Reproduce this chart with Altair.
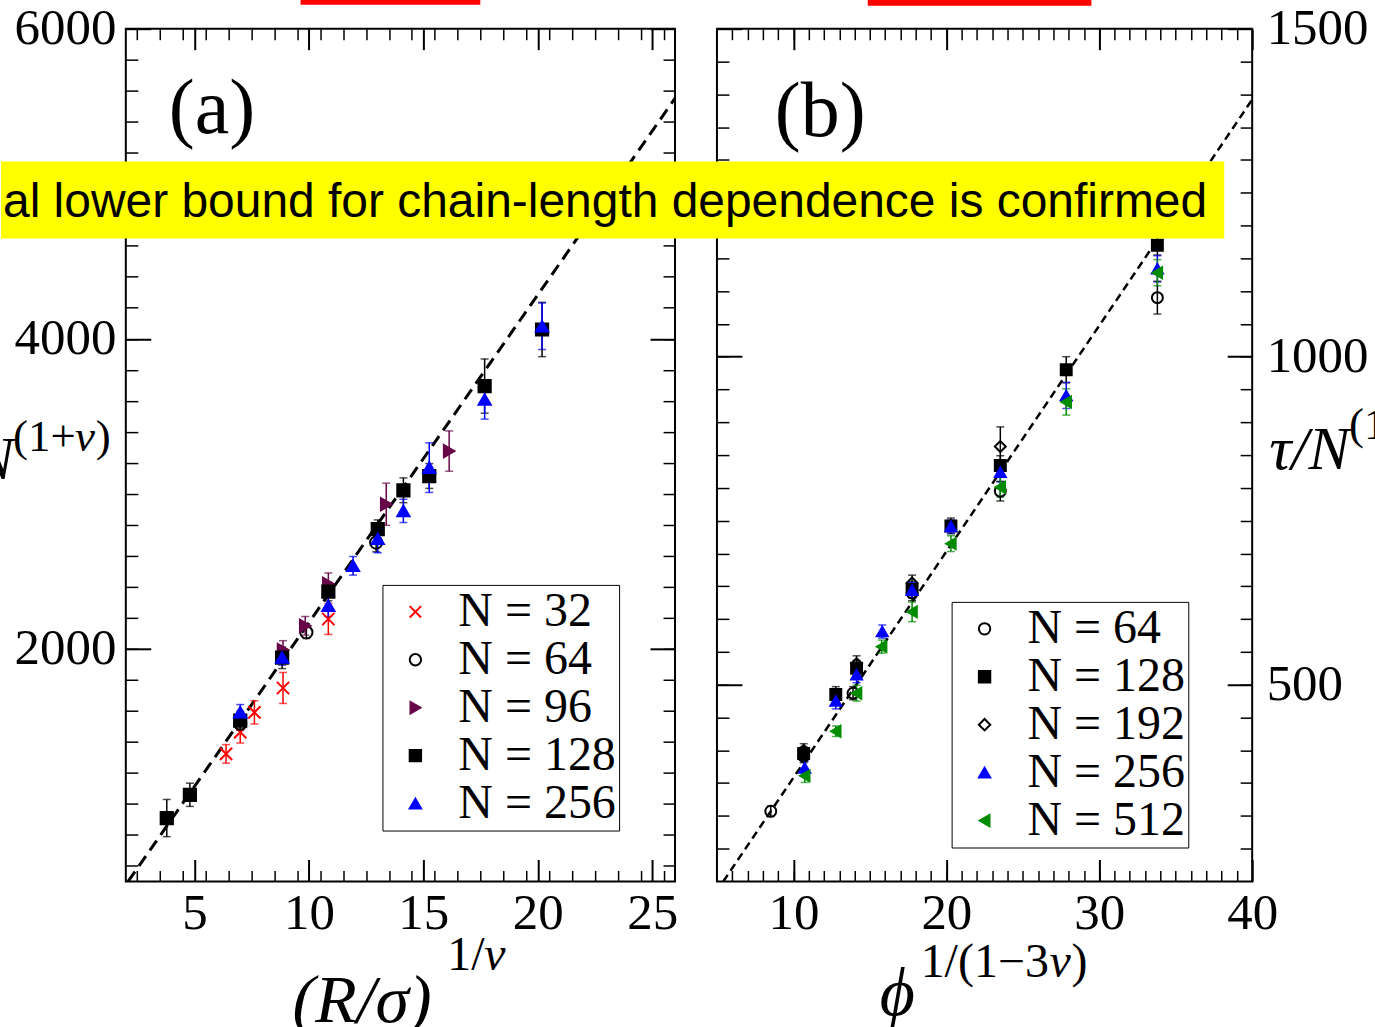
import altair as alt
import pandas as pd

SERIF = "Liberation Serif, DejaVu Serif"
SANS = "Liberation Sans, Arial"

# ---------------- panel (a) data ----------------
a_labels = ["N = 32", "N = 64", "N = 96", "N = 128", "N = 256"]
a_shapes = ["M-1,-1L1,1M-1,1L1,-1", "circle", "triangle-right", "square", "triangle-up"]
a_fills = ["transparent", "transparent", "#670748", "black", "blue"]
a_strokes = ["red", "black", "#670748", "black", "blue"]

a_n32_x = [6.38, 7.0, 7.62, 8.87, 10.85]
a_n32_y = [1323, 1463, 1591, 1748, 2193]
a_n32_e = [60, 70, 75, 100, 100]
a_n64_x = [7.0, 9.89, 12.94]
a_n64_y = [1518, 2107, 2686]
a_n64_e = [40, 40, 60]
a_n96_x = [8.87, 9.84, 10.85, 13.38, 16.13]
a_n96_y = [1993, 2149, 2420, 2933, 3276]
a_n96_e = [60, 60, 70, 136, 130]
a_n128_x = [3.79, 4.80, 7.0, 8.83, 10.85, 13.01, 14.13, 15.26, 17.68, 20.19]
a_n128_y = [909, 1059, 1538, 1943, 2370, 2772, 3023, 3115, 3695, 4060]
a_n128_e = [120, 75, 60, 70, 60, 60, 80, 80, 175, 175]
a_n256_x = [7.0, 8.83, 10.85, 11.93, 13.01, 14.13, 15.26, 17.68, 20.19]
a_n256_y = [1591, 1945, 2278, 2536, 2710, 2890, 3169, 3609, 4081]
a_n256_e = [50, 50, 70, 60, 90, 75, 160, 127, 150]

a_fit_x = [2.1, 26.0]
a_fit_y = [500, 5551]

a_x_domain = [2, 26]
a_y_domain = [500, 6000]
a_x_major = [5, 10, 15, 20, 25]
a_x_minor = [v / 2 for v in range(5, 52)]
a_y_major = [2000, 4000, 6000]
a_y_minor = list(range(600, 6000, 200))

# ---------------- panel (b) data ----------------
b_labels = ["N = 64", "N = 128", "N = 192", "N = 256", "N = 512"]
b_shapes = ["circle", "square", "diamond", "triangle-up", "triangle-left"]
b_fills = ["transparent", "black", "transparent", "blue", "#008b00"]
b_strokes = ["black", "black", "black", "blue", "#008b00"]

b_n64_x = [8.52, 10.67, 13.9, 17.76, 23.53, 33.8]
b_n64_y = [307, 391, 487, 640, 795, 1090]
b_n64_e = [8, 10, 10, 12, 15, 25]
b_n128_x = [10.67, 12.77, 14.13, 17.76, 20.3, 23.53, 27.84, 33.8]
b_n128_y = [395, 485, 525, 645, 742, 834, 980, 1170]
b_n128_e = [10, 12, 12, 12, 12, 15, 20, 15]
b_n192_x = [10.67, 14.13, 17.76, 23.53]
b_n192_y = [400, 532, 655, 863]
b_n192_e = [10, 12, 12, 30]
b_n256_x = [10.74, 12.77, 14.13, 15.81, 17.76, 20.3, 23.53, 27.84, 33.8]
b_n256_y = [373, 475, 515, 581, 644, 741, 824, 941, 1134]
b_n256_e = [10, 12, 12, 10, 12, 10, 15, 20, 20]
b_n512_x = [10.74, 12.77, 14.13, 15.77, 17.76, 20.3, 23.53, 27.84, 33.8]
b_n512_y = [361, 429, 487, 558, 611, 715, 801, 931, 1128]
b_n512_e = [10, 8, 12, 10, 15, 12, 15, 20, 20]

b_fit_x = [5.41, 40.0]
b_fit_y = [200, 1392]

b_x_domain = [5, 40]
b_y_domain = [200, 1500]
b_x_major = [10, 20, 30, 40]
b_x_minor = list(range(6, 40))
b_y_major = [500, 1000, 1500]
b_y_minor = list(range(250, 1500, 50))


def build(series):
    rows = []
    for lab, xs, ys, es in series:
        for x, y, e in zip(xs, ys, es):
            rows.append({"N": lab, "x": x, "y": y, "lo": y - e, "hi": y + e})
    return pd.DataFrame(rows)


df_a = build([
    (a_labels[0], a_n32_x, a_n32_y, a_n32_e),
    (a_labels[1], a_n64_x, a_n64_y, a_n64_e),
    (a_labels[2], a_n96_x, a_n96_y, a_n96_e),
    (a_labels[3], a_n128_x, a_n128_y, a_n128_e),
    (a_labels[4], a_n256_x, a_n256_y, a_n256_e),
])
df_b = build([
    (b_labels[0], b_n64_x, b_n64_y, b_n64_e),
    (b_labels[1], b_n128_x, b_n128_y, b_n128_e),
    (b_labels[2], b_n192_x, b_n192_y, b_n192_e),
    (b_labels[3], b_n256_x, b_n256_y, b_n256_e),
    (b_labels[4], b_n512_x, b_n512_y, b_n512_e),
])
fit_a = pd.DataFrame({"x": a_fit_x, "y": a_fit_y})
fit_b = pd.DataFrame({"x": b_fit_x, "y": b_fit_y})
one = pd.DataFrame({"k": [0]})


def ax(orient, values, size, labels=False, pad=7, width=2):
    kw = dict(orient=orient, values=values, tickSize=size, offset=-size, labels=labels,
              domain=False, grid=False, ticks=True, tickColor="black", tickWidth=width,
              labelFlush=False, labelOverlap=False, title=None, format="d")
    if labels:
        kw.update(labelPadding=pad, labelFont=SERIF, labelFontSize=51, labelColor="black")
    return alt.Axis(**kw)


def legend(x, y):
    return alt.Legend(title=None, orient="none", legendX=x, legendY=y, direction="vertical",
                      fillColor="white", strokeColor="black", padding=3,
                      labelFont=SERIF, labelFontSize=48, labelColor="black", labelLimit=400,
                      symbolSize=130, symbolStrokeWidth=2, symbolOffset=6, labelOffset=19,
                      rowPadding=0)


def txt(s, x, y, size, style="normal", align="left", font=SERIF):
    return alt.Chart(one).mark_text(text=s, fontSize=size, font=font, fontStyle=style,
                                    align=align, baseline="alphabetic", color="black").encode(
        x=alt.value(x), y=alt.value(y))


def box(x, x2, y, y2, color, opacity=1.0):
    return alt.Chart(one).mark_rect(color=color, opacity=opacity).encode(
        x=alt.value(x), x2=alt.value(x2), y=alt.value(y), y2=alt.value(y2))


def panel(df, fit, xdom, ydom, xmaj, xmin, ymaj, ymin, labels, shapes, fills, strokes,
          leg_xy, psize, dash, lw, left_labels, w, h, extras):
    xsc = alt.Scale(domain=xdom, nice=False, zero=False)
    ysc = alt.Scale(domain=ydom, nice=False, zero=False)
    line = alt.Chart(fit).mark_line(color="black", strokeDash=dash, strokeWidth=lw, clip=True).encode(
        x=alt.X("x:Q", scale=xsc, axis=ax("bottom", xmaj, 22, labels=True, pad=7)),
        y=alt.Y("y:Q", scale=ysc, axis=ax("left", ymaj, 25, labels=left_labels, pad=10)))
    # error-bar colour scale lists the series in reverse order so that it is kept
    # apart from the (legend-bearing) shape / fill / stroke scales
    err = alt.Chart(df).mark_errorbar(ticks={"size": 8}, thickness=1.5).encode(
        x=alt.X("x:Q", scale=xsc, axis=None),
        y=alt.Y("lo:Q", scale=ysc, axis=None),
        y2="hi:Q",
        color=alt.Color("N:N", scale=alt.Scale(domain=labels[::-1], range=strokes[::-1]),
                        legend=None))
    leg = legend(*leg_xy)
    pts = alt.Chart(df).mark_point(size=psize, strokeWidth=2, opacity=1).encode(
        x=alt.X("x:Q", scale=xsc, axis=ax("bottom", xmin, 11, width=1.5)),
        y=alt.Y("y:Q", scale=ysc, axis=ax("left", ymin, 12, width=1.5)),
        shape=alt.Shape("N:N", scale=alt.Scale(domain=labels, range=shapes), legend=leg),
        fill=alt.Fill("N:N", scale=alt.Scale(domain=labels, range=fills), legend=leg),
        stroke=alt.Stroke("N:N", scale=alt.Scale(domain=labels, range=strokes), legend=leg))
    top_right_major = alt.Chart(fit).mark_point(opacity=0).encode(
        x=alt.X("x:Q", scale=xsc, axis=ax("top", xmaj, 21)),
        y=alt.Y("y:Q", scale=ysc, axis=ax("right", ymaj, 25, labels=not left_labels, pad=14)))
    top_right_minor = alt.Chart(fit).mark_point(opacity=0).encode(
        x=alt.X("x:Q", scale=xsc, axis=ax("top", xmin, 11, width=1.5)),
        y=alt.Y("y:Q", scale=ysc, axis=ax("right", ymin, 12, width=1.5)))
    layers = [line, err, pts, top_right_major, top_right_minor] + extras
    return alt.layer(*layers).resolve_axis(x="independent", y="independent").properties(
        width=w, height=h)


extras_a = [
    txt("(a)", 43, 104, 78),
    txt("τ/N", -112, 451, 62, style="italic", align="right"),
    txt("(1+", -113, 423, 45),
    txt("ν", -51, 423, 45, style="italic"),
    txt(")", -30, 423, 45),
    txt("(R/σ)", 167, 995, 68, style="italic"),
    txt("1/", 322, 943, 48),
    txt("ν", 359, 943, 48, style="italic"),
    box(175, 355, -40, -24, "red"),
    box(-300, -299, -100, -99, "white", opacity=0.0),
]
extras_b = [
    txt("(b)", 58, 107, 78),
    txt("τ/N", 553, 441, 62, style="italic"),
    txt("(1+ν)", 633, 411, 45),
    txt("ϕ", 163, 988, 68, style="italic"),
    txt("1/(1−3", 204, 950, 48),
    txt("ν", 333, 950, 48, style="italic"),
    txt(")", 355, 950, 48),
    box(151, 375, -40, -23, "red"),
    box(900, 901, 1154, 1155, "white", opacity=0.0),
    box(-717, 508, 133, 210, "#ffff00"),
    txt("al lower bound for chain-length dependence is confirmed", -715, 189, 48, font=SANS),
]

pa = panel(df_a, fit_a, a_x_domain, a_y_domain, a_x_major, a_x_minor, a_y_major, a_y_minor,
           a_labels, a_shapes, a_fills, a_strokes, (257, 557), 150, [12, 7], 3, True, 550, 854,
           extras_a)
pb = panel(df_b, fit_b, b_x_domain, b_y_domain, b_x_major, b_x_minor, b_y_major, b_y_minor,
           b_labels, b_shapes, b_fills, b_strokes, (235, 574), 120, [8, 5], 2.5, False, 536, 854,
           extras_b)

chart = alt.hconcat(pa, pb, spacing=42, bounds="flush").resolve_scale(
    shape="independent", fill="independent", stroke="independent", color="independent"
).resolve_legend(
    shape="independent", fill="independent", stroke="independent", color="independent"
).properties(
    padding={"left": -175, "top": -73, "right": -243, "bottom": -155},
    background="white",
).configure_view(stroke="black", strokeWidth=2).configure_axis(grid=False)

chart.save("out.html", embed_options={"renderer": "svg", "actions": False})
